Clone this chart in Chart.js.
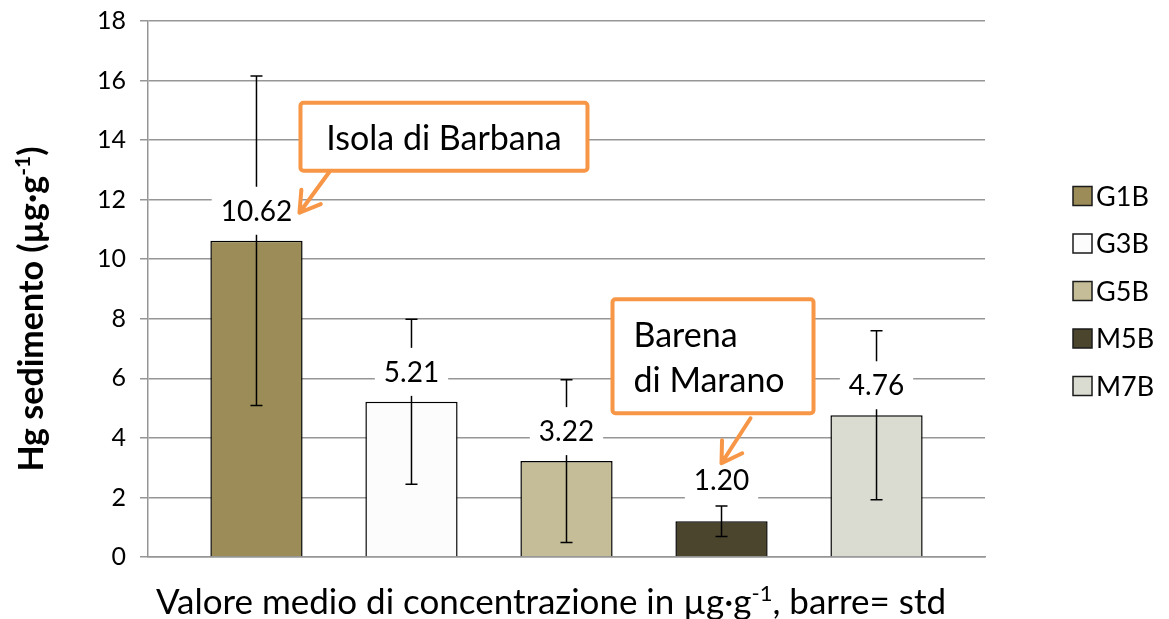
<!DOCTYPE html>
<html>
<head>
<meta charset="utf-8">
<script src="https://cdn.jsdelivr.net/npm/chart.js@4.4.1/dist/chart.umd.min.js"></script>
<style>
  html, body { margin: 0; padding: 0; background: #fff; }
  #contenitore { width: 1169px; height: 619px; position: relative; }
</style>
</head>
<body>
<div id="contenitore"><canvas id="grafico"></canvas></div>
<script>
// Dati
const stazioni = ["G1B", "G3B", "G5B", "M5B", "M7B"];
const medie = [10.62, 5.21, 3.22, 1.20, 4.76];
const deviazioni = [5.53, 2.77, 2.73, 0.51, 2.84];
const colori = ["#9C8C57", "#FCFCFC", "#C5BD98", "#4B452E", "#DBDCD1"];
const titoloY = ["Hg sedimento (µg·g", "-1", ")"];
const titoloX = ["Valore medio di concentrazione in µg·g", "-1", ", barre= std"];

const FONT = "Lato, 'Liberation Sans', sans-serif";
const ARANCIO = "#F79646";
Chart.defaults.font.family = FONT;
Chart.defaults.font.size = 25;

// scostamento verticale delle etichette sopra la barra
const offsetEtichette = [30, 30, 30, 41, 30];

// richiami (offset in px rispetto al centro dell'etichetta della barra)
const richiami = [
  { barra: 0, righe: ["Isola di Barbana"], box: [44, -108, 331, -40], freccia: [73, -39, 43, 2], allinea: "center" },
  { barra: 3, righe: ["Barena", "di Marano"], box: [-109, -181, 92, -67], freccia: [29, -62, 0, -17], allinea: "left" }
];

// testo con apice (es. g-1)
function testoConApice(ctx, parti, x, y, size, bold) {
  const f = (s) => (bold ? "bold " : "") + s + "px " + FONT;
  const sup = Math.round(size * 0.62);
  ctx.font = f(size);
  const w0 = ctx.measureText(parti[0]).width;
  const w2 = ctx.measureText(parti[2]).width;
  ctx.font = f(sup);
  const w1 = ctx.measureText(parti[1]).width;
  let cx = x - (w0 + w1 + w2) / 2;
  ctx.textAlign = "left";
  ctx.textBaseline = "alphabetic";
  ctx.font = f(size);
  ctx.fillText(parti[0], cx, y);
  cx += w0;
  ctx.font = f(sup);
  ctx.fillText(parti[1], cx, y - size * 0.38);
  cx += w1;
  ctx.font = f(size);
  ctx.fillText(parti[2], cx, y);
}

const pluginDisegni = {
  id: "disegni",
  afterDatasetsDraw(chart) {
    const ctx = chart.ctx;
    const y = chart.scales.y;
    const centri = [];
    chart.data.datasets.forEach((ds, i) => {
      const barra = chart.getDatasetMeta(i).data[0];
      const m = ds.data[0], s = deviazioni[i];
      const yAlto = y.getPixelForValue(m + s);
      const yBasso = y.getPixelForValue(m - s);
      ctx.save();
      ctx.strokeStyle = "#000";
      ctx.lineWidth = 1.5;
      ctx.beginPath();
      ctx.moveTo(barra.x, yAlto); ctx.lineTo(barra.x, yBasso);
      ctx.moveTo(barra.x - 6, yAlto); ctx.lineTo(barra.x + 6, yAlto);
      ctx.moveTo(barra.x - 6, yBasso); ctx.lineTo(barra.x + 6, yBasso);
      ctx.stroke();
      // etichetta valore
      const testo = m.toFixed(2);
      ctx.font = "28px " + FONT;
      const w = ctx.measureText(testo).width;
      const cy = barra.y - offsetEtichette[i];
      centri.push({ x: barra.x, y: cy });
      ctx.fillStyle = "#fff";
      ctx.fillRect(barra.x - w / 2 - 9, cy - 24, w + 18, 48);
      ctx.fillStyle = "#000";
      ctx.textAlign = "center";
      ctx.textBaseline = "middle";
      ctx.fillText(testo, barra.x, cy + 1);
      ctx.restore();
    });

    // richiami arancioni
    richiami.forEach(r => {
      const c = centri[r.barra];
      const [x1, y1, x2, y2] = r.box;
      ctx.save();
      ctx.fillStyle = "#fff";
      ctx.strokeStyle = ARANCIO;
      ctx.lineWidth = 4;
      ctx.lineJoin = "round";
      ctx.beginPath();
      ctx.roundRect(c.x + x1, c.y + y1, x2 - x1, y2 - y1, 3);
      ctx.fill();
      ctx.stroke();
      ctx.fillStyle = "#000";
      ctx.font = "34px " + FONT;
      ctx.textBaseline = "middle";
      const mezzo = c.y + (y1 + y2) / 2 + 2;
      const n = r.righe.length;
      r.righe.forEach((t, k) => {
        const ty = mezzo + (k - (n - 1) / 2) * 45;
        if (r.allinea === "center") {
          ctx.textAlign = "center";
          ctx.fillText(t, c.x + (x1 + x2) / 2, ty);
        } else {
          ctx.textAlign = "left";
          ctx.fillText(t, c.x + x1 + 21, ty);
        }
      });
      // freccia
      const [ax, ay, bx, by] = r.freccia;
      const px = c.x + bx, py = c.y + by;
      const ang = Math.atan2(by - ay, bx - ax);
      ctx.lineCap = "round";
      ctx.beginPath();
      ctx.moveTo(c.x + ax, c.y + ay);
      ctx.lineTo(px, py);
      ctx.moveTo(px - 23 * Math.cos(ang - 0.55), py - 23 * Math.sin(ang - 0.55));
      ctx.lineTo(px, py);
      ctx.lineTo(px - 23 * Math.cos(ang + 0.55), py - 23 * Math.sin(ang + 0.55));
      ctx.stroke();
      ctx.restore();
    });
  },
  afterDraw(chart) {
    const ctx = chart.ctx;
    ctx.save();
    ctx.fillStyle = "#000";
    // titolo asse X
    testoConApice(ctx, titoloX, 551, 614, 35, false);
    // titolo asse Y (ruotato)
    ctx.translate(43, 309);
    ctx.rotate(-Math.PI / 2);
    testoConApice(ctx, titoloY, 0, 0, 34, true);
    ctx.restore();

    // legenda
    ctx.save();
    ctx.font = "27px " + FONT;
    ctx.textBaseline = "middle";
    ctx.textAlign = "left";
    chart.data.datasets.forEach((ds, i) => {
      const ly = 196 + i * 47.5;
      ctx.fillStyle = ds.backgroundColor;
      ctx.fillRect(1073, ly - 9.5, 19, 19);
      ctx.strokeStyle = "#1a1a1a";
      ctx.lineWidth = 1.5;
      ctx.strokeRect(1073, ly - 9.5, 19, 19);
      ctx.fillStyle = "#000";
      ctx.fillText(ds.label, 1096, ly + 1);
    });
    ctx.restore();
  }
};

const datasets = stazioni.map((s, i) => ({
  label: s,
  data: [medie[i]],
  backgroundColor: colori[i],
  borderColor: "#000",
  borderWidth: 1.5,
  categoryPercentage: 0.926,
  barPercentage: 0.595
}));

new Chart(document.getElementById("grafico"), {
  type: "bar",
  data: { labels: [""], datasets: datasets },
  options: {
    responsive: true,
    maintainAspectRatio: false,
    animation: false,
    layout: { padding: { top: 21, right: 184, left: 0, bottom: 0 } },
    plugins: {
      legend: { display: false },
      tooltip: { enabled: false }
    },
    scales: {
      x: {
        grid: { display: false },
        border: { display: true, color: "#969696", width: 1.5 },
        ticks: { display: false },
        afterFit(scale) { scale.height = 62; }
      },
      y: {
        min: 0,
        max: 18,
        ticks: { stepSize: 2, color: "#000", padding: 14, font: () => ({ family: FONT, size: 25 }) },
        grid: { color: "#969696", lineWidth: 1.5, tickLength: 8 },
        border: { display: true, color: "#969696", width: 1.5 },
        afterFit(scale) {
          scale.width = 148;
          scale.paddingTop = 0;
        }
      }
    }
  },
  plugins: [pluginDisegni]
});
</script>
</body>
</html>
